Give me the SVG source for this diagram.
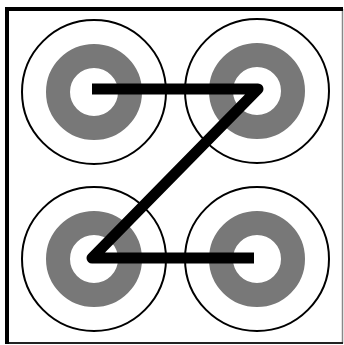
<svg xmlns="http://www.w3.org/2000/svg" width="344" height="345" viewBox="0 0 344 345">
<style>
.outer{fill:none;stroke:#000;stroke-width:2}
.ring{fill:#fff;stroke:#787878;stroke-width:24}
</style>
<defs>
<g id="target">
<circle class="outer" r="72"/>
<circle class="ring" r="36"/>
</g>
</defs>
<rect width="344" height="345" fill="#fff"/>
<g id="frame">
<line x1="342.5" y1="9" x2="342.5" y2="343.5" stroke="#888" stroke-width="1.5"/>
<line x1="7" y1="343" x2="343" y2="343" stroke="#222" stroke-width="2"/>
<line x1="5" y1="9" x2="343" y2="9" stroke="#000" stroke-width="4"/>
<line x1="7" y1="7" x2="7" y2="344" stroke="#000" stroke-width="4"/>
</g>
<g id="node-tl"><use href="#target" x="94" y="92"/></g>
<g id="node-tr"><use href="#target" x="257" y="91"/></g>
<g id="node-bl"><use href="#target" x="94" y="259"/></g>
<g id="node-br"><use href="#target" x="257" y="259"/></g>
<g id="connectors">
<path d="M92 89 L258 89 L92 258 L254 258" fill="none" stroke="#000" stroke-width="11" stroke-linejoin="round" stroke-linecap="butt"/>
</g>
</svg>
